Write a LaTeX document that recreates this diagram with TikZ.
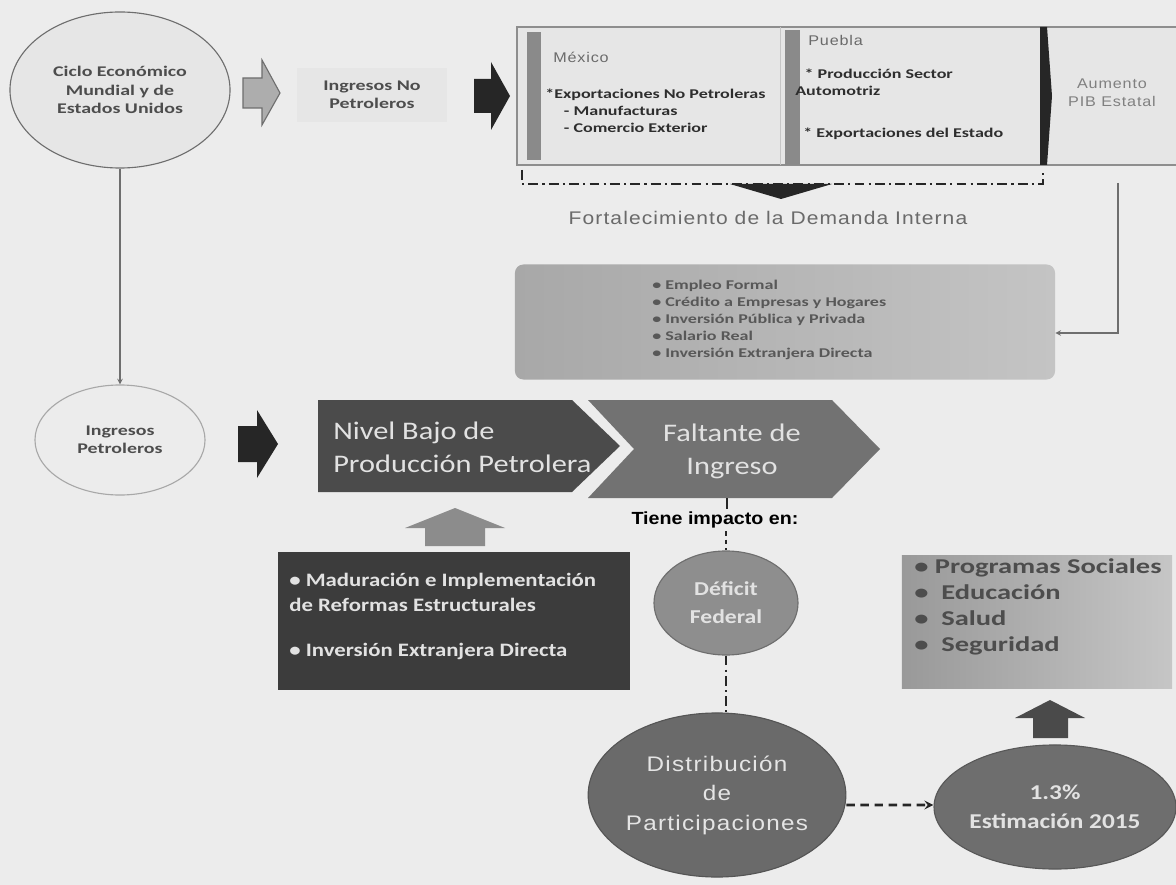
\documentclass[tikz,border=0pt]{standalone}
\usepackage{fontspec}
\setmainfont{Carlito}
\newfontfamily\widefont[FakeStretch=1.35]{Carlito}
\newfontfamily\midfont[FakeStretch=1.2]{Carlito}
\newfontfamily\arialf[FakeStretch=1.12]{Liberation Sans}
\newfontfamily\arialsp[LetterSpace=6,FakeStretch=1.15]{Liberation Sans}
\usetikzlibrary{shapes.geometric,positioning,arrows.meta}

\definecolor{bgc}{HTML}{ECECEC}
\definecolor{linec}{HTML}{6E6E6E}
\definecolor{blackc}{HTML}{262626}
\definecolor{boxfill}{HTML}{E6E6E6}
\definecolor{boxline}{HTML}{8E8E8E}
\definecolor{barc}{HTML}{8A8A8A}
\definecolor{nivelc}{HTML}{4B4B4B}
\definecolor{faltc}{HTML}{727272}
\definecolor{deficitc}{HTML}{8E8E8E}
\definecolor{distribc}{HTML}{6A6A6A}
\definecolor{estimc}{HTML}{6E6E6E}
\definecolor{darkboxc}{HTML}{3C3C3C}
\definecolor{uparrowc}{HTML}{8C8C8C}
\definecolor{duparrowc}{HTML}{4A4A4A}
\definecolor{empL}{HTML}{A8A8A8}
\definecolor{empR}{HTML}{C4C4C4}
\definecolor{progL}{HTML}{999999}
\definecolor{progR}{HTML}{C6C6C6}
\definecolor{darktxt}{HTML}{2E2E2E}
\definecolor{graytxt}{HTML}{6A6A6A}
\definecolor{lighttxt}{HTML}{E2E2E2}

\tikzstyle{oval} = [ellipse, draw=linec, line width=0.8pt, align=center, inner sep=0pt]
\tikzstyle{ovaltxt} = [text=darktxt!85, font=\widefont\bfseries\fontsize{10.5}{13}\selectfont]
\tikzstyle{smalltxt} = [text=darktxt, font=\widefont\bfseries\fontsize{9.5}{12}\selectfont, align=left, inner sep=0pt]
\tikzstyle{sptxt} = [text=graytxt, font=\arialsp\fontsize{10}{13}\selectfont, align=center, inner sep=0pt]
\tikzstyle{bigtxt} = [text=lighttxt, font=\midfont\fontsize{18}{23.5}\selectfont, align=center, inner sep=0pt]
\tikzstyle{softbox} = [rectangle, fill=boxfill, minimum width=3.75cm, minimum height=1.35cm, align=center]
\tikzstyle{arrow} = [->,>=stealth, linec, line width=0.8pt]
\tikzstyle{dashdot} = [dash pattern=on 7pt off 3pt on 1.5pt off 3pt]

\begin{document}
\begin{tikzpicture}[x=0.025cm, y=-0.025cm]
\fill[bgc] (0,0) rectangle (1176,885);
\useasboundingbox (0,0) rectangle (1176,885);

% fila superior
\node (ciclo) [oval, ovaltxt, fill=boxfill, minimum width=5.5cm, minimum height=3.9cm] at (120,90) {Ciclo Económico\\Mundial y de\\Estados Unidos};
\filldraw[fill=barc!70, draw=linec, line width=0.8pt] (243,78) -- (262,78) -- (262,60) -- (280,93) -- (262,125) -- (262,108) -- (243,108) -- cycle;
\node (nopetro) [softbox, ovaltxt] at (372,95) {Ingresos No\\Petroleros};
\fill[blackc] (474,79) -- (491,79) -- (491,62) -- (510,96) -- (491,130) -- (491,113) -- (474,113) -- cycle;

% recuadro Mexico / Puebla
\fill[boxfill] (517,27) rectangle (1176,165);
\draw[boxline, line width=0.8pt] (1176,27) -- (517,27) -- (517,165) -- (1176,165);
\draw[boxline!50, line width=0.6pt] (780,27) -- (780,165);
\fill[barc] (527,32) rectangle (541,160);
\fill[barc] (785,30) rectangle (800,165);
\fill[blackc] (1040,27) -- (1047,27) -- (1052,96) -- (1047,165) -- (1040,165) -- cycle;
\node (mexico) [sptxt, anchor=west] at (553,57) {México};
\node (mxlist) [smalltxt, anchor=north west] at (545,89) {*Exportaciones No Petroleras\\\hspace{1.4em}- Manufacturas\\\hspace{1.4em}- Comercio Exterior};
\node (puebla) [sptxt, anchor=west] at (808,40) {Puebla};
\node (pblist) [smalltxt, anchor=north west] at (795,69) {\hspace{0.7em}* Producción Sector\\Automotriz};
\node (pbexp) [smalltxt, anchor=west] at (803,134) {* Exportaciones del Estado};
\node (pib) [sptxt, text=graytxt!85] at (1112,93) {Aumento\\PIB Estatal};

% corchete y demanda interna
\draw[blackc, dashdot, line width=1pt] (522,170) -- (522,184) -- (1043,184) -- (1043,170);
\fill[blackc] (730,184) -- (832,184) -- (781,199) -- cycle;
\node (fort) [sptxt, font=\arialsp\fontsize{13}{15}\selectfont] at (768,218) {Fortalecimiento de la Demanda Interna};

\node (empleo) [rectangle, rounded corners=6pt, left color=empL, right color=empR, minimum width=13.5cm, minimum height=2.875cm] at (785,322) {};
\node (emptxt) [smalltxt, text=darktxt!80, anchor=west] at (652,320) {• Empleo Formal\\• Crédito a Empresas y Hogares\\• Inversión Pública y Privada\\• Salario Real\\• Inversión Extranjera Directa};
\coordinate (pibbot) at (1118,183);
\draw[arrow] (pibbot) |- ([yshift=-0.275cm]empleo.east);

% fila petrolera
\node (petro) [oval, ovaltxt, draw=linec!60, fill=bgc, minimum width=4.25cm, minimum height=2.75cm] at (120,440) {Ingresos\\Petroleros};
\draw[arrow] (ciclo) -- (petro);
\fill[blackc] (238,426) -- (257,426) -- (257,410) -- (278,444) -- (257,478) -- (257,462) -- (238,462) -- cycle;
\fill[nivelc] (318,400) -- (572,400) -- (620,446) -- (572,492) -- (318,492) -- cycle;
\node (nivel) [bigtxt, align=left, anchor=west] at (333,447) {Nivel Bajo de\\Producción Petrolera};
\fill[faltc] (588,400) -- (832,400) -- (880,449) -- (832,498) -- (588,498) -- (634,449) -- cycle;
\node (falt) [bigtxt] at (732,451) {Faltante de\\Ingreso};

% reformas
\fill[uparrowc] (425,546) -- (425,528) -- (405,528) -- (455,508) -- (505,528) -- (485,528) -- (485,546) -- cycle;
\node (reform) [rectangle, fill=darkboxc, minimum width=8.8cm, minimum height=3.425cm] at (454,621) {};
\node (reformtxt) [smalltxt, text=lighttxt, font=\midfont\bfseries\fontsize{13.5}{17.5}\selectfont, anchor=north west] at (289,573) {• Maduración e Implementación\\de Reformas Estructurales\\[15pt]• Inversión Extranjera Directa};

% impacto
\coordinate (faltbot) at (727,498);
\node (tiene) [font=\arialf\bfseries\fontsize{12.5}{14}\selectfont, text=black, inner sep=2pt] at (715,520) {Tiene impacto en:};
\draw[blackc, line width=0.8pt] (faltbot) -- (faltbot |- tiene.north);
\node (deficit) [oval, draw=linec, fill=deficitc, text=lighttxt, font=\midfont\bfseries\fontsize{14}{20}\selectfont, minimum width=3.6cm, minimum height=2.6cm] at (726,603) {Déficit\\Federal};
\draw[blackc, dashed, line width=0.8pt] (tiene.south -| deficit) -- (deficit);
\node (distrib) [oval, draw=distribc!80!black, fill=distribc, text=lighttxt!90, font=\arialsp\fontsize{15}{21}\selectfont, minimum width=6.25cm, minimum height=4.1cm] at (717,795) {Distribución\\de\\Participaciones};
\draw[blackc, dashdot, line width=1pt] (deficit.south) -- (deficit.south |- distrib.north);
\node (estim) [oval, draw=estimc!80!black, fill=estimc, text=lighttxt, font=\midfont\bfseries\fontsize{15}{21}\selectfont, minimum width=5.9cm, minimum height=3.1cm] at (1055,807) {1.3\%\\Estimación 2015};
\draw[->, >=stealth, blackc, dash pattern=on 6pt off 4pt, line width=1.8pt] ([yshift=-0.25cm]distrib.east) -- ([yshift=0.05cm]estim.west);

% programas
\fill[duparrowc] (1033,738) -- (1033,718) -- (1015,718) -- (1050,700) -- (1085,718) -- (1068,718) -- (1068,738) -- cycle;
\node (prog) [rectangle, left color=progL, right color=progR, minimum width=6.75cm, minimum height=3.3cm] at (1037,622) {};
\node (progtxt) [smalltxt, text=darktxt!85, font=\widefont\bfseries\fontsize{15}{18.5}\selectfont, anchor=north west] at (914,558) {• Programas Sociales\\•\ \ Educación\\•\ \ Salud\\•\ \ Seguridad};

\end{tikzpicture}
\end{document}
